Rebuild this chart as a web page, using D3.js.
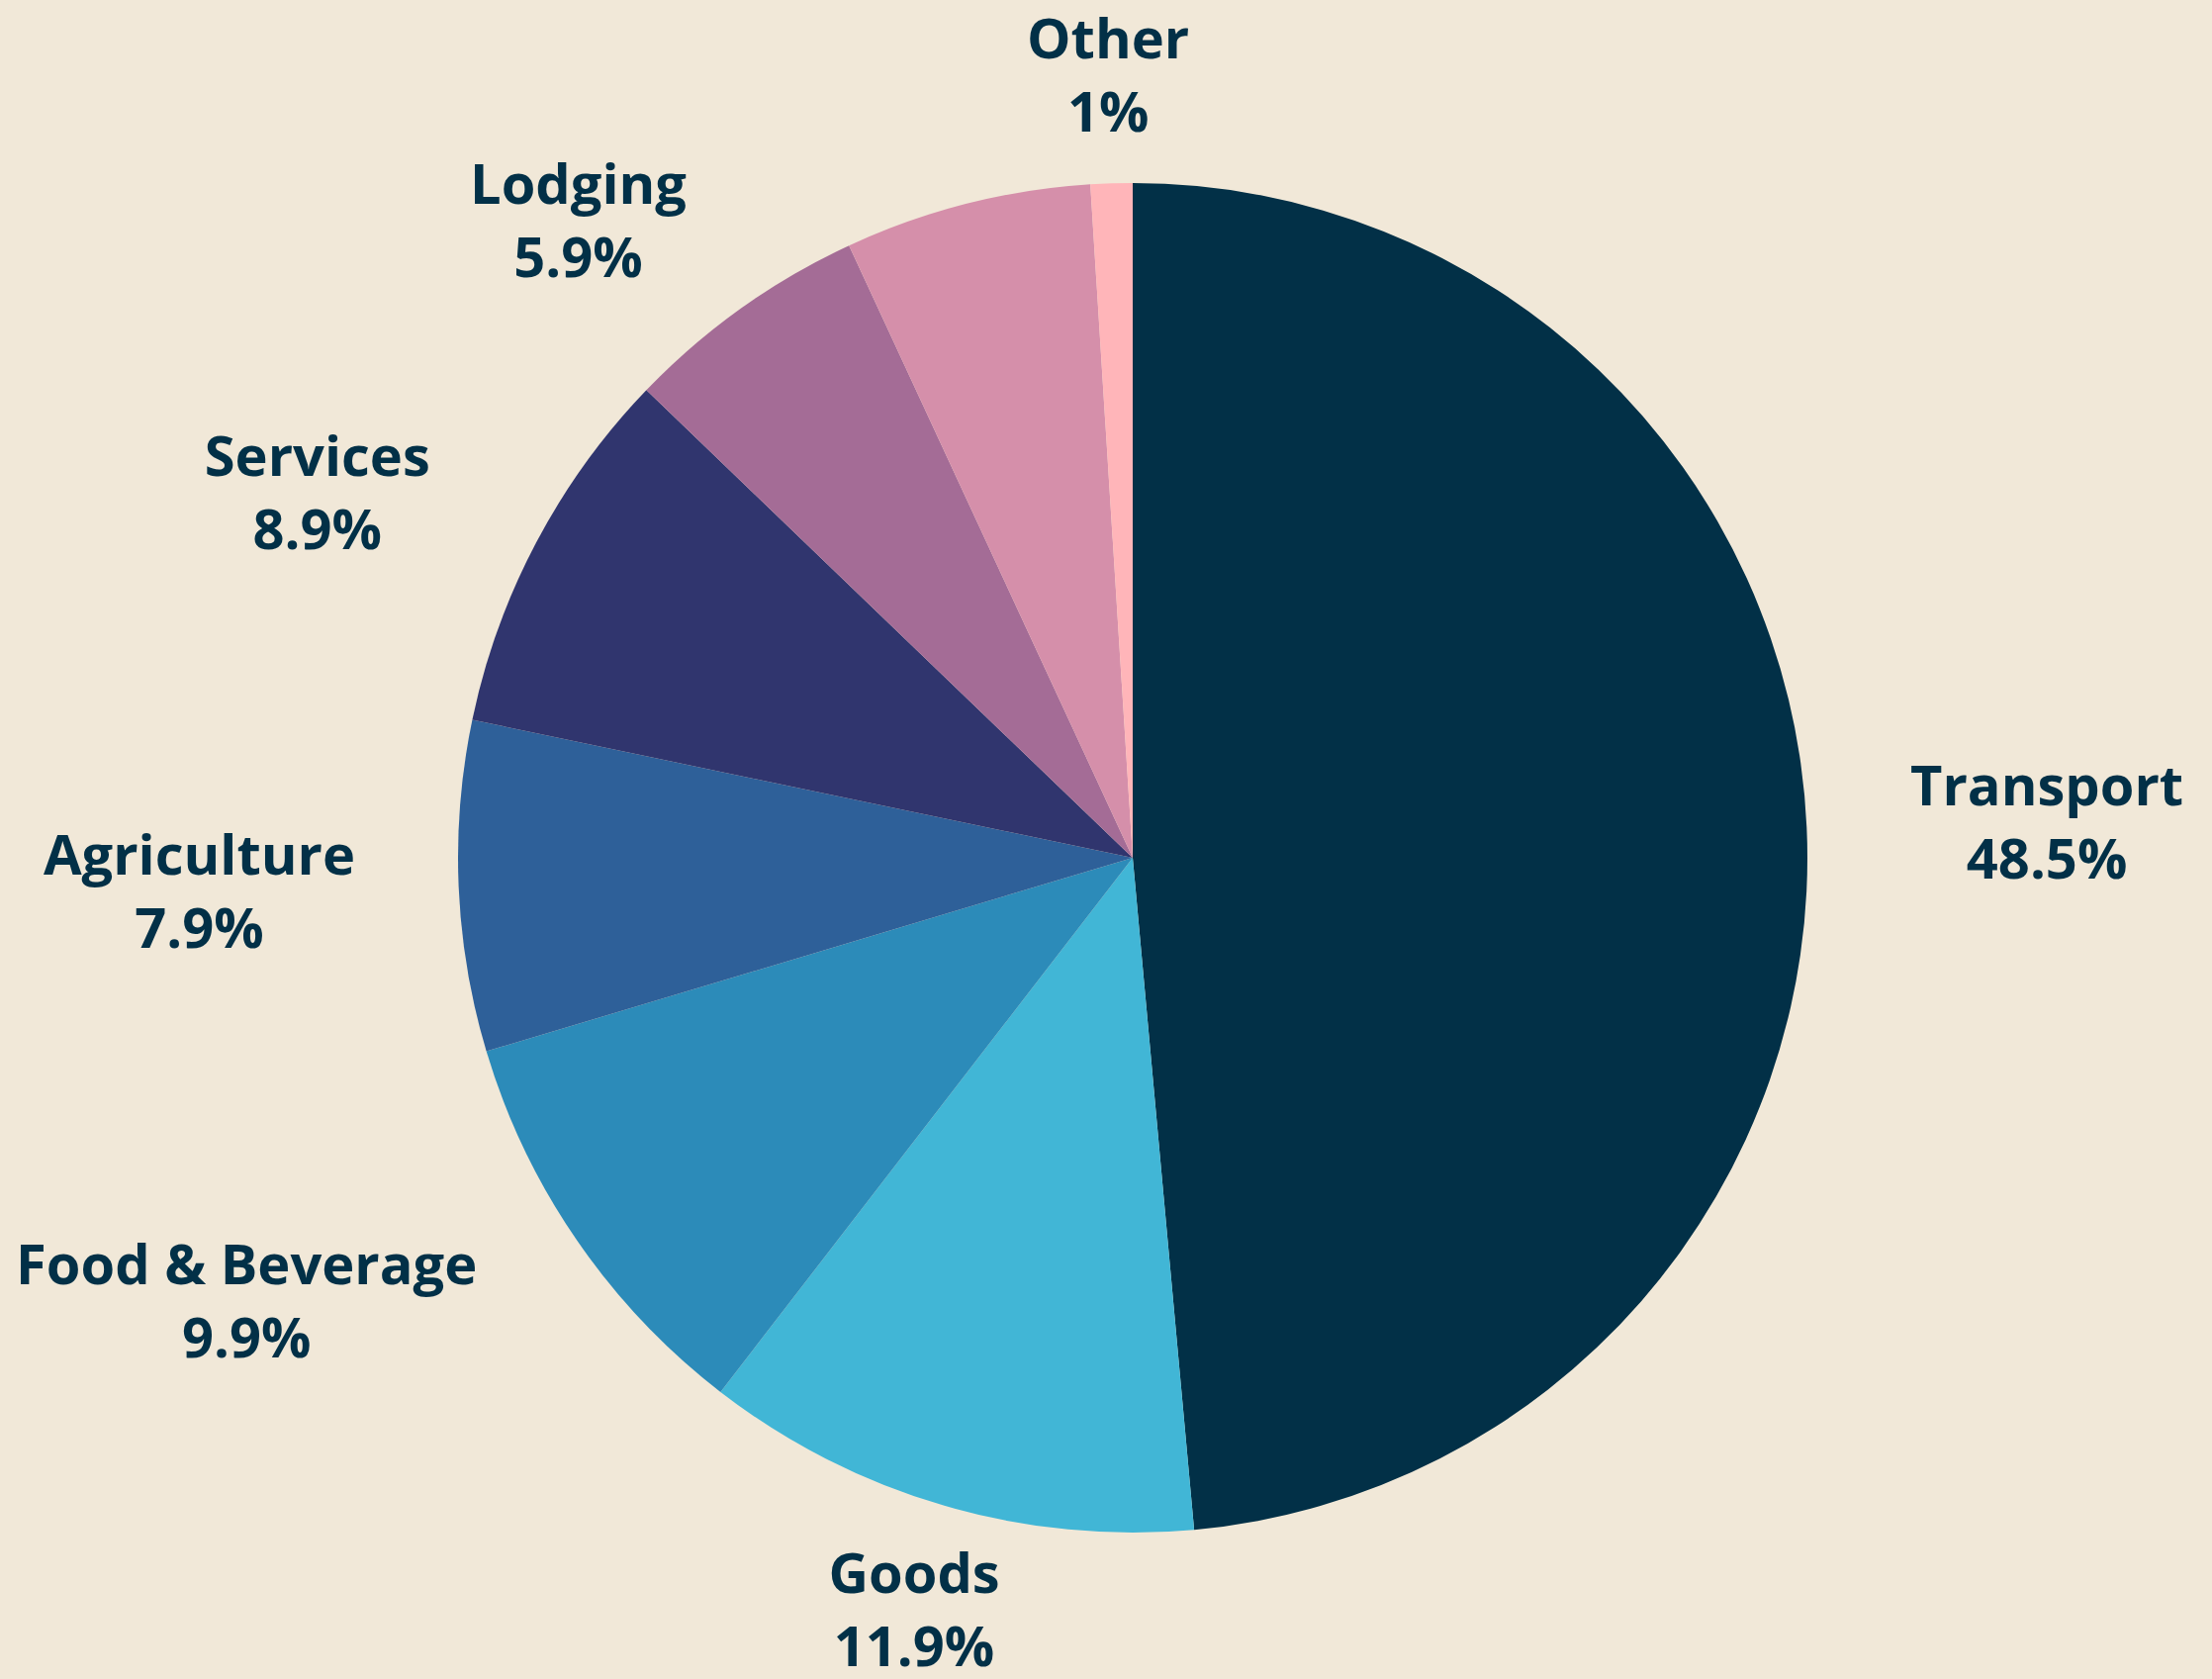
<!DOCTYPE html>
<html>
<head>
<meta charset="utf-8">
<script src="https://cdn.jsdelivr.net/npm/d3@7"></script>
<style>
  html, body { margin: 0; padding: 0; background: #f1e8d8; }
  svg { display: block; }
</style>
</head>
<body>
<svg id="chart"></svg>
<script>
// slices go clockwise from 12 o'clock
var categories = ["Transport", "Goods", "Food & Beverage", "Agriculture", "Services", "Lodging", "", "Other"];
var shares = [48.5, 11.9, 9.9, 7.9, 8.9, 5.9, 5.9, 1];
var sliceColors = ["#023047", "#41b6d6", "#2c8bb9", "#2e6099", "#30356e", "#a46c96", "#d58faa", "#ffb5b9"];

var width = 2236, height = 1697;
var cx = 1145, cy = 867, radius = 682;
var textColor = "#023047";
var fontSize = 56, lineGap = 74;

var svg = d3.select("#chart")
    .attr("width", width)
    .attr("height", height);

svg.append("rect")
    .attr("width", width)
    .attr("height", height)
    .attr("fill", "#f1e8d8");

var g = svg.append("g")
    .attr("transform", "translate(" + cx + "," + cy + ")");

var pie = d3.pie().sort(null).value(function(d) { return d; });
var arcs = pie(shares);

var path = d3.arc()
    .outerRadius(radius)
    .innerRadius(0);

g.selectAll("path.slice")
    .data(arcs)
    .enter()
    .append("path")
    .attr("class", "slice")
    .attr("d", path)
    .attr("fill", function(d, i) { return sliceColors[i]; });

// labels: start on a ring just outside the pie; side labels then keep a fixed
// horizontal gap from the pie edge
var labelRing = radius * 1.16;
var sideGap = 104;

var labels = g.selectAll("g.label")
    .data(arcs.filter(function(d, i) { return categories[i] !== ""; }))
    .enter()
    .append("g")
    .attr("class", "label");

labels.each(function(d) {
    var i = d.index;
    var sel = d3.select(this);
    var t = sel.append("text")
        .attr("text-anchor", "middle")
        .attr("fill", textColor)
        .style("font-family", "'Open Sans', sans-serif")
        .style("font-weight", 700)
        .style("font-size", fontSize + "px");
    var l1 = t.append("tspan").attr("x", 0).attr("y", -17).text(categories[i]);
    var l2 = t.append("tspan").attr("x", 0).attr("y", -17 + lineGap).text(shares[i] + "%");

    var w = Math.max(l1.node().getComputedTextLength(), l2.node().getComputedTextLength());
    var h = 114;
    var a = (d.startAngle + d.endAngle) / 2;
    var x = labelRing * Math.sin(a);
    var y = -labelRing * Math.cos(a);

    if (Math.abs(Math.sin(a)) > 0.5) {
        var ny = Math.max(y - h / 2, Math.min(0, y + h / 2));
        var edge = Math.abs(ny) < radius ? Math.sqrt(radius * radius - ny * ny) : 0;
        var need = edge + sideGap + w / 2;
        if (Math.abs(x) < need) x = (x < 0 ? -1 : 1) * need;
    }
    sel.attr("transform", "translate(" + x + "," + y + ")");
});
</script>
</body>
</html>
